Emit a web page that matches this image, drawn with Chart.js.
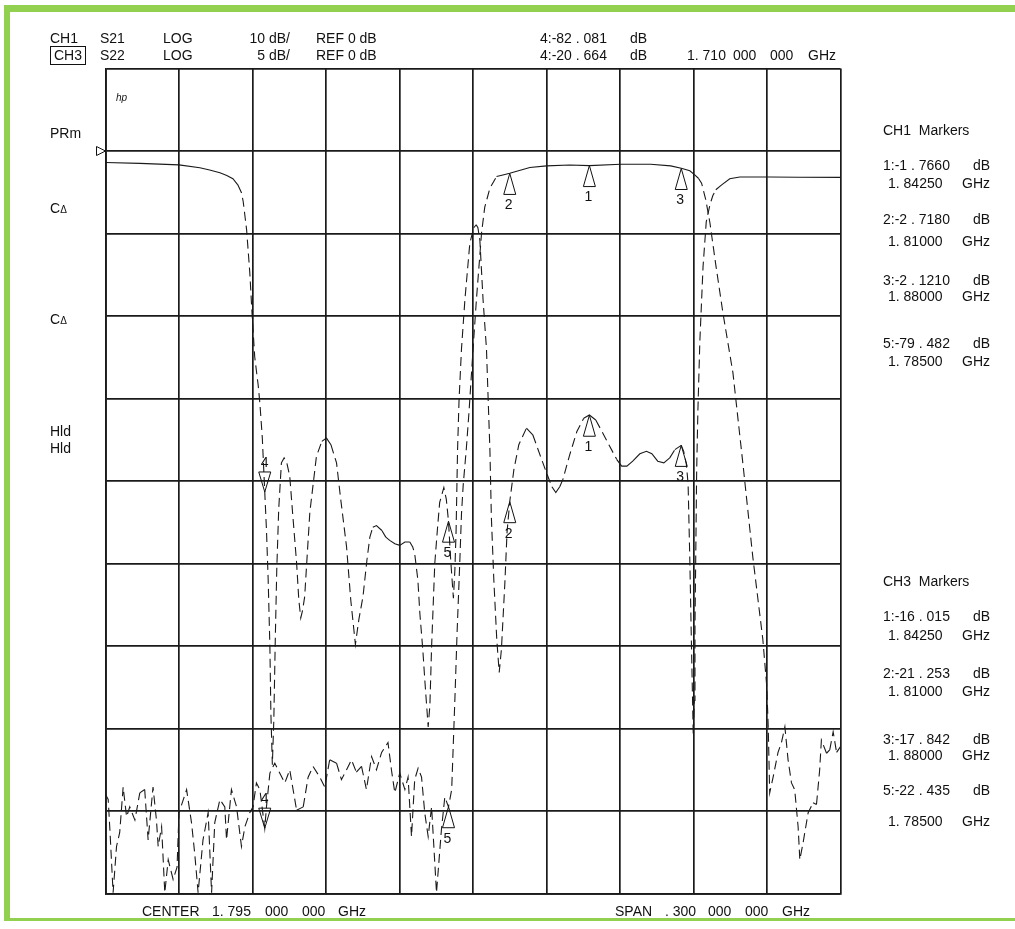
<!DOCTYPE html>
<html>
<head>
<meta charset="utf-8">
<script src="https://cdn.jsdelivr.net/npm/chart.js@4.4.1/dist/chart.umd.min.js"></script>
<style>
html,body{margin:0;padding:0;background:#fff;}
#wrap{position:relative;width:1015px;height:929px;overflow:hidden;font-family:"Liberation Sans",Arial,sans-serif;font-size:14px;color:#111;}
#c{position:absolute;left:0;top:0;}
.t{position:absolute;white-space:pre;line-height:16px;height:16px;}
.g{position:absolute;background:#92d050;}
.box{position:absolute;border:1px solid #111;}
</style>
</head>
<body>
<div id="wrap">
<canvas id="c" width="1015" height="929"></canvas>
</div>
<script>
// ---------- DATA ----------
// Frequency axis (MHz): centre 1795, span 300
const freqStart = 1645, freqStop = 1945, freqStep = 30;
// CH1: S21, 10 dB/div, REF 0 dB ; CH3: S22, 5 dB/div, REF 0 dB
const ch1Min = -90, ch1Max = 10, ch1Step = 10;
const ch3Min = -45, ch3Max = 5;
const refLevel = 0;

const freqCH1 = [1645,1646.1,1646.8,1648.1,1649.5,1650.8,1652.2,1653.6,1654.9,1657,1659,1661,1662.4,1664.4,1665.8,1666.5,1667.9,1669.2,1670.6,1672.6,1674.2,1675,1678.1,1680.1,1681.4,1682.8,1684.8,1686.9,1688.3,1689.6,1691.7,1693.7,1694.4,1696.4,1698.5,1700.5,1701.9,1703.9,1705.2,1706.6,1708,1710,1710.7,1712.1,1714.1,1716.1,1718.2,1720.2,1723,1725.7,1727.7,1729.7,1732.5,1734.5,1736.5,1739.3,1741.3,1743.4,1745.4,1747.4,1749.5,1751.5,1753.6,1755.6,1757.7,1760.3,1761.7,1763.1,1765.1,1767.2,1768.5,1769.9,1771.2,1772.6,1774,1775.3,1776.7,1778.1,1780.1,1782.1,1783.5,1785,1786.3,1787.6,1788.5,1789.6,1790.3,1791,1792.3,1793.4,1795,1796.4,1798.5,1799.8,1801.9,1804.6,1807.2,1810,1818.2,1825,1834.5,1842.5,1855.3,1867.5,1875.7,1880,1883.5,1885.5,1887,1888.3,1890,1891.7,1894.1,1897,1901.1,1905.2,1909.2,1913.3,1914.9,1915.5,1916.1,1917.5,1919.5,1920.9,1922.3,1923.6,1925,1926.3,1927.7,1928.4,1929.7,1931.8,1933.8,1935.2,1936.5,1937.2,1939.3,1940.6,1942,1943.4,1945];
const s21 = [-78.0,-78.6,-82.3,-89.9,-84.3,-82.6,-77.1,-80.7,-79.5,-81.1,-77.8,-77.4,-83.5,-77.1,-81.1,-84.3,-81.9,-89.9,-85.9,-88.3,-86.8,-80.2,-77.4,-81.4,-85.1,-89.9,-83.5,-80.2,-89.9,-81.4,-78.6,-79.5,-83.5,-77.4,-79.5,-84.3,-81.9,-80.2,-79.5,-76.6,-77.4,-82.1,-79.5,-75.4,-74.2,-75.4,-76.6,-75.0,-79.9,-79.5,-75.9,-74.6,-75.9,-77.1,-73.8,-74.2,-76.2,-75.0,-73.8,-75.3,-74.6,-77.4,-73.4,-75.0,-72.9,-71.7,-75.0,-77.8,-75.4,-77.4,-75.9,-83.1,-76.2,-74.8,-75.9,-80.2,-83.1,-79.5,-89.9,-82.3,-78.3,-79.5,-77.4,-66.5,-58.4,-49.9,-44.0,-40.5,-36.0,-31.5,-24.1,-18.0,-9.9,-6.8,-4.5,-3.1,-2.9,-2.7,-2.0,-1.8,-1.7,-1.77,-1.6,-1.6,-1.8,-2.1,-2.4,-2.9,-3.3,-3.9,-5.9,-8.7,-13.8,-19.6,-26.9,-38.0,-49.2,-59.2,-64.9,-69.8,-77.8,-75.9,-72.9,-71.7,-69.8,-73.8,-76.6,-77.4,-81.9,-85.9,-83.9,-80.2,-79.0,-79.2,-75.0,-71.4,-73.0,-72.6,-70.4,-72.9,-72.2];

const freqCH3 = [1645,1659,1675,1683.5,1687.5,1691.7,1694.5,1697,1699,1700.5,1701.2,1702.6,1703.9,1704.8,1705.9,1707.3,1708,1709,1710,1710.7,1711.4,1712.1,1712.5,1713.1,1713.7,1714.3,1714.9,1715.7,1716.8,1717.9,1719,1720.2,1721.4,1723,1723.9,1724.7,1725.5,1726.3,1728.4,1731.1,1733.3,1735.2,1737,1739.3,1741,1743.4,1745.1,1747,1748.4,1750.1,1751.7,1752.9,1754.1,1755.6,1757.8,1759.4,1761,1763.1,1765.1,1767.2,1769.2,1770.4,1771.2,1772.5,1773.3,1774.5,1775.3,1776.7,1777.4,1778.1,1779.4,1780.6,1781.4,1783.1,1784.1,1785,1785.9,1787,1787.6,1788.1,1788.7,1789.3,1790.3,1791.7,1793.7,1795.3,1796.3,1797,1797.8,1799.1,1800.5,1801.2,1801.9,1802.5,1803.5,1804.7,1805.7,1806.6,1808,1808.9,1810,1811.7,1813.7,1816.8,1819.4,1822.3,1825,1827.2,1828.8,1830.4,1831.7,1834.5,1837.4,1840.2,1842.5,1845.1,1848,1850.8,1853.7,1855.7,1857.8,1860.2,1863.1,1865.8,1868,1870.4,1872.9,1875.3,1877.4,1880,1881,1882.1,1882.8,1883.5,1884.2,1884.9,1885.3,1885.6,1885.9,1886.3,1886.8,1887.6,1888.9,1890.2,1891.7,1892.9,1894.1,1896.5,1899.8,1903.9,1916,1928,1945];
const s22 = [-0.70,-0.75,-0.84,-1.02,-1.15,-1.32,-1.48,-1.68,-2.05,-2.53,-3.06,-4.78,-7.38,-9.81,-12.47,-14.17,-15.26,-17.38,-20.66,-22.96,-25.99,-30.05,-34.05,-37.2,-34.5,-29.6,-25.4,-21.7,-18.9,-18.6,-18.9,-19.7,-22.0,-24.96,-27.2,-28.3,-27.8,-27.0,-21.9,-18.5,-17.6,-17.4,-17.8,-18.9,-21.1,-24.0,-27.2,-29.9,-28.4,-27.0,-24.8,-23.4,-22.8,-22.7,-23.0,-23.4,-23.6,-23.8,-23.9,-23.7,-23.7,-24.0,-24.4,-26.0,-28.0,-30.2,-32.0,-34.9,-33.6,-30.05,-25.0,-22.7,-21.3,-20.4,-21.1,-22.44,-24.8,-27.1,-25.4,-23.0,-18.1,-15.1,-12.0,-9.0,-5.6,-4.65,-4.47,-4.65,-5.4,-9.0,-12.0,-15.1,-18.1,-22.2,-26.0,-29.6,-31.6,-30.2,-26.2,-23.1,-21.25,-19.3,-17.8,-16.8,-17.2,-18.4,-19.5,-20.35,-20.7,-20.35,-19.9,-18.4,-17.0,-16.2,-16.0,-16.3,-17.1,-17.9,-18.7,-19.1,-19.1,-18.8,-18.35,-18.2,-18.35,-18.8,-18.9,-18.6,-18.1,-17.84,-18.2,-19.0,-20.2,-24.8,-30.2,-35.4,-33.3,-28.8,-24.8,-19.3,-15.7,-11.5,-7.0,-4.3,-3.26,-2.7,-2.35,-2.05,-1.68,-1.58,-1.58,-1.59,-1.6];

// Markers
const markerLabels = ['1','2','3','4','5'];
const markerFreq = [1842.5, 1810, 1880, 1710, 1785];
const ch1MarkerVals = [-1.766, -2.718, -2.121, -82.081, -79.482];
const ch3MarkerVals = [-16.015, -21.253, -17.842, -20.664, -22.435];
const activeMarker = 3;

// Marker readout texts
const ch1Readout = [['1:-1 . 7660','1. 84250'],['2:-2 . 7180','1. 81000'],['3:-2 . 1210','1. 88000'],['5:-79 . 482','1. 78500']];
const ch3Readout = [['1:-16 . 015','1. 84250'],['2:-21 . 253','1. 81000'],['3:-17 . 842','1. 88000'],['5:-22 . 435','1. 78500']];

// ---------- TEXT / DECOR ----------
const wrap = document.getElementById('wrap');
function rect(cls, l, t, w, h){ const d=document.createElement('div'); d.className=cls; d.style.left=l+'px'; d.style.top=t+'px'; d.style.width=w+'px'; d.style.height=h+'px'; wrap.appendChild(d); return d; }
function txt(x, cy, s, opts){
  const d=document.createElement('div'); d.className='t'; d.textContent=s;
  d.style.top=(cy-8)+'px';
  if(opts && opts.right){ d.style.right=(1015-x)+'px'; } else { d.style.left=x+'px'; }
  if(opts && opts.style) Object.assign(d.style, opts.style);
  wrap.appendChild(d); return d;
}
rect('g',4,5,1011,7);
rect('g',4,5,6,916);
rect('g',4,918,1011,3);

// header
txt(50,37.5,'CH1'); txt(100,37.5,'S21'); txt(163,37.5,'LOG'); txt(290,37.5,'10 dB/',{right:true}); txt(316,37.5,'REF 0 dB');
txt(540,37.5,'4:-82 . 081'); txt(630,37.5,'dB');
rect('box',50,46,34,17);
txt(54,55,'CH3'); txt(100,55,'S22'); txt(163,55,'LOG'); txt(290,55,'5 dB/',{right:true}); txt(316,55,'REF 0 dB');
txt(540,55,'4:-20 . 664'); txt(630,55,'dB');
txt(687,55,'1. 710'); txt(733,55,'000'); txt(770,55,'000'); txt(808,55,'GHz');

// left annunciators
txt(116,98,'hp',{style:{fontSize:'10px',fontStyle:'italic'}});
txt(50,132.5,'PRm');
[208,319].forEach(y=>{ const d=txt(50,y,'C'); const s=document.createElement('span'); s.textContent='Δ'; s.style.fontSize='10px'; d.appendChild(s); });
txt(50,431,'Hld'); txt(50,448,'Hld');

// right marker readouts
txt(883,130,'CH1  Markers');
const ch1Y = [[165,183.3],[219.3,240.7],[280,295.7],[343.3,361]];
ch1Readout.forEach((r,i)=>{ txt(883,ch1Y[i][0],r[0]); txt(990,ch1Y[i][0],'dB',{right:true}); txt(888,ch1Y[i][1],r[1]); txt(990,ch1Y[i][1],'GHz',{right:true}); });
txt(883,580.7,'CH3  Markers');
const ch3Y = [[616,635],[673.3,691],[739.3,755],[790,821]];
ch3Readout.forEach((r,i)=>{ txt(883,ch3Y[i][0],r[0]); txt(990,ch3Y[i][0],'dB',{right:true}); txt(888,ch3Y[i][1],r[1]); txt(990,ch3Y[i][1],'GHz',{right:true}); });

// bottom
txt(142,911,'CENTER'); txt(212,911,'1. 795'); txt(265,911,'000'); txt(302,911,'000'); txt(338,911,'GHz');
txt(615,911,'SPAN'); txt(665,911,'. 300'); txt(708,911,'000'); txt(745,911,'000'); txt(782,911,'GHz');

// ---------- CHART ----------
const steepDash = ctx => {
  const dx = Math.abs(ctx.p1.x - ctx.p0.x), dy = Math.abs(ctx.p1.y - ctx.p0.y);
  return dy > 1.5 * dx ? [9,5] : [];
};
const markerPlugin = {
  id: 'markers',
  afterDatasetsDraw(chart){
    const {ctx, chartArea} = chart; const sx = chart.scales.x, sy = chart.scales.y, sy2 = chart.scales.y2;
    ctx.save();
    ctx.strokeStyle = '#111'; ctx.fillStyle = '#111'; ctx.lineWidth = 1;
    ctx.font = '14px "Liberation Sans", Arial, sans-serif';
    ctx.textAlign = 'center'; ctx.textBaseline = 'middle';
    const draw = (px, py, label, down) => {
      ctx.beginPath();
      if (down) {
        ctx.moveTo(px-6, py-20); ctx.lineTo(px+6, py-20); ctx.lineTo(px, py); ctx.closePath(); ctx.stroke();
        ctx.fillText(label, px, py-29);
      } else {
        ctx.moveTo(px, py); ctx.lineTo(px-6, py+21); ctx.lineTo(px+6, py+21); ctx.closePath(); ctx.stroke();
        ctx.fillText(label, px-1, py+32);
      }
    };
    markerFreq.forEach((f, i) => {
      const px = sx.getPixelForValue(f);
      draw(px, sy.getPixelForValue(ch1MarkerVals[i]), markerLabels[i], i === activeMarker);
      draw(px, sy2.getPixelForValue(ch3MarkerVals[i]), markerLabels[i], i === activeMarker);
    });
    const ry = sy.getPixelForValue(refLevel);
    ctx.beginPath(); ctx.moveTo(chartArea.left-9, ry-4.5); ctx.lineTo(chartArea.left, ry); ctx.lineTo(chartArea.left-9, ry+4.5); ctx.closePath(); ctx.stroke();
    ctx.restore();
  }
};

const toPts = (xs, ys) => xs.map((v, i) => ({x: v, y: ys[i]}));

new Chart(document.getElementById('c'), {
  type: 'line',
  data: {
    datasets: [
      { label: 'CH1 S21', data: toPts(freqCH1, s21), yAxisID: 'y', borderColor: '#1a1a1a', borderWidth: 1.1, pointRadius: 0, fill: false, tension: 0, segment: { borderDash: steepDash } },
      { label: 'CH3 S22', data: toPts(freqCH3, s22), yAxisID: 'y2', borderColor: '#1a1a1a', borderWidth: 1.1, pointRadius: 0, fill: false, tension: 0, segment: { borderDash: steepDash } }
    ]
  },
  options: {
    responsive: false, animation: false, devicePixelRatio: 1,
    layout: { padding: { left: 105.5, top: 68.5, right: 174.5, bottom: 35.5 } },
    plugins: { legend: { display: false }, tooltip: { enabled: false } },
    scales: {
      x: { type: 'linear', min: freqStart, max: freqStop,
           ticks: { display: false, stepSize: freqStep },
           grid: { color: '#1a1a1a', lineWidth: 1.7, drawTicks: false },
           border: { display: true, color: '#1a1a1a', width: 1.8 } },
      y: { type: 'linear', min: ch1Min, max: ch1Max,
           ticks: { display: false, stepSize: ch1Step },
           grid: { color: '#1a1a1a', lineWidth: 1.7, drawTicks: false },
           border: { display: true, color: '#1a1a1a', width: 1.8 } },
      y2: { type: 'linear', display: false, min: ch3Min, max: ch3Max }
    }
  },
  plugins: [markerPlugin]
});
</script>
</body>
</html>
